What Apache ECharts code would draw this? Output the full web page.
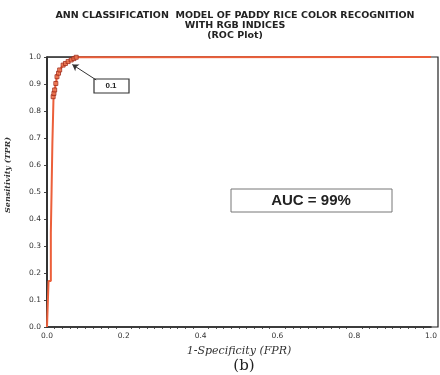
<!DOCTYPE html>
<html lang="en">
<head>
    <meta charset="UTF-8">
    <script src="https://cdn.jsdelivr.net/npm/echarts@6/dist/echarts.min.js"></script>
</head>
<body style="margin:0">
    <div id="main" style="height: 375px;width: 440px;"></div>
    <script>
        // ROC curve: [FPR, TPR]
        var rocSteps = [[0, 0], [0.004, 0], [0.004, 0.17], [0.010, 0.17], [0.010, 0.35], [0.012, 0.35],
            [0.012, 0.51], [0.014, 0.51], [0.014, 0.68], [0.017, 0.68], [0.017, 0.853]]
        var rocMarkers = [[0.016, 0.853], [0.018, 0.865], [0.020, 0.878], [0.023, 0.902], [0.026, 0.927],
            [0.030, 0.94], [0.033, 0.952], [0.042, 0.970], [0.048, 0.976], [0.055, 0.983], [0.063, 0.989],
            [0.070, 0.994], [0.076, 0.999]]
        var rocTail = [[0.076, 1], [1, 1]]
        var perfect = [[0, 0], [0, 1], [1, 1]]
        var aucText = 'AUC = 99%'
        var threshText = '0.1'

        var myCharts = echarts.init(document.getElementById('main'))
        var option = {
            animation: false,
            title: {
                text: 'ANN CLASSIFICATION  MODEL OF PADDY RICE COLOR RECOGNITION\nWITH RGB INDICES\n(ROC Plot)',
                left: 230, top: 6, textAlign: 'center',
                textStyle: { fontSize: 9.5, fontWeight: 'bold', color: '#222', lineHeight: 10, fontFamily: 'DejaVu Sans' }
            },
            grid: { left: 47, right: 2, top: 57, bottom: 48 },
            xAxis: {
                type: 'value', min: 0, max: 1, interval: 0.2,
                name: '1-Specificity (FPR)', nameLocation: 'middle', nameGap: 19,
                nameTextStyle: { fontFamily: 'DejaVu Serif', fontStyle: 'italic', fontSize: 11, color: '#333' },
                axisLine: { lineStyle: { color: '#222', width: 1.5 } },
                axisTick: { show: false },
                minorTick: { show: true, splitNumber: 10, length: 2, lineStyle: { color: '#555' } },
                splitLine: { show: false },
                axisLabel: { fontSize: 7.5, fontFamily: 'DejaVu Sans', color: '#333', margin: 5,
                    formatter: function (v) { return v.toFixed(1) } }
            },
            yAxis: {
                type: 'value', min: 0, max: 1, interval: 0.1,
                axisLine: { lineStyle: { color: '#222', width: 1.5 } },
                axisTick: { show: true, inside: false, length: 3, lineStyle: { color: '#444' } },
                splitLine: { show: false },
                axisLabel: { fontSize: 7.5, fontFamily: 'DejaVu Sans', color: '#333', margin: 6, formatter: function (v) { return v.toFixed(1) } }
            },
            graphic: [
                { type: 'rect', shape: { x: 47, y: 57, width: 391, height: 270 }, style: { fill: 'none', stroke: '#222', lineWidth: 1.2 }, z: 1 },
                { type: 'text', x: 8, y: 175, rotation: Math.PI / 2,
                  style: { text: 'Sensitivity (TPR)', font: 'italic bold 8px "DejaVu Serif"', fill: '#333', textAlign: 'center', textVerticalAlign: 'middle' } },
                { type: 'text', x: 244, y: 366, style: { text: '(b)', font: '15px "DejaVu Serif"', fill: '#222', textAlign: 'center', textVerticalAlign: 'middle' } },
                { type: 'rect', shape: { x: 231, y: 189, width: 161, height: 23 }, style: { fill: '#fff', stroke: '#777', lineWidth: 1 } },
                { type: 'text', x: 311, y: 201, style: { text: aucText, font: 'bold 15px Arial', fill: '#222', textAlign: 'center', textVerticalAlign: 'middle' } },
                { type: 'rect', shape: { x: 94, y: 79, width: 35, height: 14 }, style: { fill: '#fff', stroke: '#333', lineWidth: 1.2 } },
                { type: 'text', x: 111, y: 86, style: { text: threshText, font: 'bold 8px Arial', fill: '#222', textAlign: 'center', textVerticalAlign: 'middle' } }
            ],
            series: [
                {
                    type: 'line', data: perfect, symbol: 'none',
                    lineStyle: { color: '#333', width: 1.5 }, z: 2
                },
                {
                    type: 'line', data: rocSteps.concat(rocMarkers, rocTail), symbol: 'none',
                    lineStyle: { color: '#ec5f3a', width: 2 }, z: 3,
                    markLine: {
                        silent: true, symbol: ['none', 'arrow'], symbolSize: 6,
                        lineStyle: { color: '#333', width: 1, type: 'solid' }, label: { show: false },
                        data: [[{ coord: [0.128, 0.915] }, { coord: [0.066, 0.972] }]]
                    }
                },
                {
                    type: 'scatter', data: rocMarkers, symbol: 'rect', symbolSize: 4,
                    itemStyle: { color: '#f07850', borderColor: '#a02a1a', borderWidth: 1 }, z: 4
                }
            ]
        }
        myCharts.setOption(option)
    </script>
</body>
</html>
